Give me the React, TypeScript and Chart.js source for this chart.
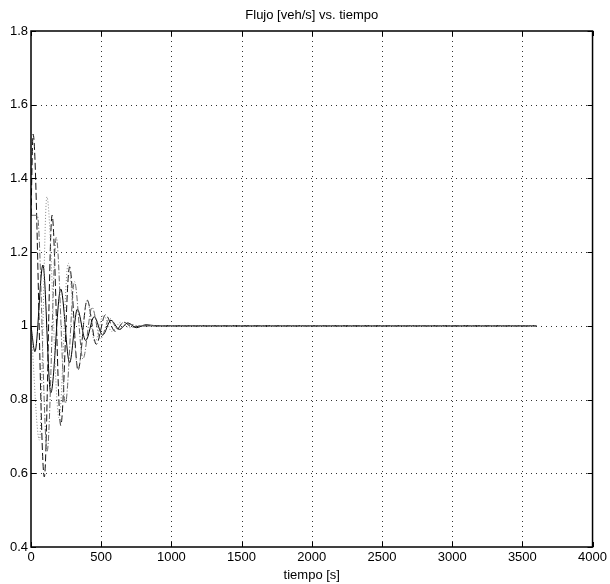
import React, { useEffect, useRef } from "react";
import { Chart, registerables } from "chart.js";

Chart.register(...registerables);

const TITLE = "Flujo [veh/s] vs. tiempo";
const X_TITLE = "tiempo [s]";
const X_MIN = 0;
const X_MAX = 4000;
const X_STEP = 500;
const Y_MIN = 0.4;
const Y_MAX = 1.8;
const Y_STEP = 0.2;

// Solid black series
const solidT = [0, 28, 85, 141, 212, 275, 330, 390, 450, 510, 570, 630, 690, 750, 820, 900, 3600];
const solidV = [1.0, 0.93, 1.165, 0.818, 1.1, 0.9, 1.045, 0.96, 1.025, 0.975, 1.015, 0.99, 1.008, 0.995, 1.003, 1.0, 1.0];

// Dashed black series
const dashT = [0, 15, 95, 150, 212, 275, 335, 400, 465, 530, 600, 660, 720, 800, 3600];
const dashV = [1.3, 1.52, 0.59, 1.3, 0.73, 1.16, 0.88, 1.07, 0.95, 1.03, 0.985, 1.01, 0.997, 1.0, 1.0];

// Dotted gray series
const dotT = [0, 60, 113, 200, 265, 335, 400, 455, 515, 575, 640, 700, 780, 3600];
const dotV = [1.0, 0.69, 1.35, 0.75, 1.17, 0.88, 1.07, 0.955, 1.03, 0.985, 1.01, 0.995, 1.0, 1.0];

// Dash-dot gray series
const dashDotT = [0, 45, 115, 180, 245, 310, 370, 435, 495, 560, 620, 690, 770, 3600];
const dashDotV = [1.3, 1.3, 0.66, 1.24, 0.79, 1.12, 0.91, 1.05, 0.965, 1.02, 0.99, 1.005, 1.0, 1.0];

const FONT = '"Liberation Sans", Arial, sans-serif';

const toPts = (t: number[], v: number[]) => t.map((x, i) => ({ x, y: v[i] }));

const matlabPlugin = {
  id: "matlabFrame",
  beforeDatasetsDraw(chart: any) {
    const { ctx, chartArea: a, scales } = chart;
    const xs = scales.x;
    const ys = scales.y;
    ctx.save();
    ctx.strokeStyle = "#333";
    ctx.lineWidth = 1;
    ctx.setLineDash([1, 4]);
    xs.ticks.forEach((t: any) => {
      if (t.value <= X_MIN || t.value >= X_MAX) return;
      const px = Math.round(xs.getPixelForValue(t.value)) + 0.5;
      ctx.beginPath();
      ctx.moveTo(px, a.top);
      ctx.lineTo(px, a.bottom);
      ctx.stroke();
    });
    ys.ticks.forEach((t: any) => {
      if (t.value <= Y_MIN + 1e-9 || t.value >= Y_MAX - 1e-9) return;
      const py = Math.round(ys.getPixelForValue(t.value)) + 0.5;
      ctx.beginPath();
      ctx.moveTo(a.left, py);
      ctx.lineTo(a.right, py);
      ctx.stroke();
    });
    ctx.restore();
  },
  afterDatasetsDraw(chart: any) {
    const { ctx, chartArea: a, scales } = chart;
    const xs = scales.x;
    const ys = scales.y;
    ctx.save();
    ctx.setLineDash([]);
    ctx.strokeStyle = "#000";
    ctx.lineWidth = 1.5;
    ctx.strokeRect(a.left, a.top, a.right - a.left, a.bottom - a.top);
    ctx.lineWidth = 1;
    const tl = 5;
    xs.ticks.forEach((t: any) => {
      const px = Math.round(xs.getPixelForValue(t.value)) + 0.5;
      ctx.beginPath();
      ctx.moveTo(px, a.bottom);
      ctx.lineTo(px, a.bottom - tl);
      ctx.moveTo(px, a.top);
      ctx.lineTo(px, a.top + tl);
      ctx.stroke();
    });
    ys.ticks.forEach((t: any) => {
      const py = Math.round(ys.getPixelForValue(t.value)) + 0.5;
      ctx.beginPath();
      ctx.moveTo(a.left, py);
      ctx.lineTo(a.left + tl, py);
      ctx.moveTo(a.right, py);
      ctx.lineTo(a.right - tl, py);
      ctx.stroke();
    });
    ctx.fillStyle = "#000";
    ctx.font = `13px ${FONT}`;
    ctx.textAlign = "center";
    ctx.textBaseline = "middle";
    ctx.fillText(TITLE, (a.left + a.right) / 2, 15);
    ctx.fillText(X_TITLE, (a.left + a.right) / 2, 575);
    ctx.restore();
  },
};

export default function App() {
  const ref = useRef<HTMLCanvasElement>(null);
  useEffect(() => {
    if (!ref.current) return;
    const common = {
      pointRadius: 0,
      fill: false,
      cubicInterpolationMode: "monotone" as const,
      borderWidth: 1,
    };
    const chart = new Chart(ref.current, {
      type: "line",
      data: {
        datasets: [
          { ...common, label: "dotted", data: toPts(dotT, dotV), borderColor: "#888", borderDash: [1, 2] },
          { ...common, label: "dashdot", data: toPts(dashDotT, dashDotV), borderColor: "#666", borderDash: [6, 2, 1, 2] },
          { ...common, label: "dashed", data: toPts(dashT, dashV), borderColor: "#111", borderDash: [7, 3] },
          { ...common, label: "solid", data: toPts(solidT, solidV), borderColor: "#000" },
        ],
      },
      options: {
        animation: false,
        responsive: false,
        layout: { padding: { top: 31, right: 12, left: 0, bottom: 0 } },
        plugins: { legend: { display: false }, tooltip: { enabled: false }, title: { display: false } },
        scales: {
          x: {
            type: "linear",
            min: X_MIN,
            max: X_MAX,
            grid: { display: false, drawTicks: false },
            border: { display: false },
            ticks: {
              stepSize: X_STEP,
              color: "#000",
              font: { family: FONT, size: 13 },
              padding: 3,
              maxRotation: 0,
              autoSkip: false,
              callback: (v: any) => String(Math.round(Number(v))),
            },
            afterFit: (s: any) => {
              s.height = 37;
            },
          },
          y: {
            min: Y_MIN,
            max: Y_MAX,
            grid: { display: false, drawTicks: false },
            border: { display: false },
            ticks: {
              stepSize: Y_STEP,
              color: "#000",
              font: { family: FONT, size: 13 },
              padding: 3,
              autoSkip: false,
              callback: (v: any) => parseFloat(Number(v).toFixed(2)).toString(),
            },
            afterFit: (s: any) => {
              s.width = 31;
            },
          },
        },
      },
      plugins: [matlabPlugin],
    });
    return () => chart.destroy();
  }, []);
  return (
    <div style={{ position: "absolute", left: 0, top: 0, width: 610, height: 584, background: "#fff" }}>
      <canvas ref={ref} width={610} height={584} />
    </div>
  );
}
